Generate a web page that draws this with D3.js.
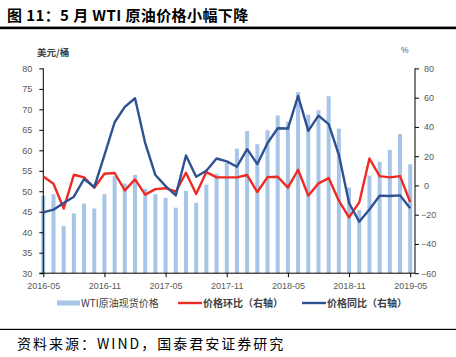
<!DOCTYPE html>
<html><head><meta charset="utf-8">
<script src="https://cdn.jsdelivr.net/npm/d3@7/dist/d3.min.js"></script>
<style>
body{margin:0;background:#fff;}
svg{display:block;font-family:"Liberation Sans",Arial,sans-serif;}
</style></head>
<body><svg id="c" width="456" height="357"></svg>
<script>
const months = ["2016-05","2016-06","2016-07","2016-08","2016-09","2016-10","2016-11","2016-12",
"2017-01","2017-02","2017-03","2017-04","2017-05","2017-06","2017-07","2017-08","2017-09","2017-10","2017-11","2017-12",
"2018-01","2018-02","2018-03","2018-04","2018-05","2018-06","2018-07","2018-08","2018-09","2018-10","2018-11","2018-12",
"2019-01","2019-02","2019-03","2019-04","2019-05"];
const wtiPrice = [48.9,49.3,41.5,44.6,47.0,45.8,49.3,53.7,51.9,54.0,50.6,49.3,48.4,46.0,50.1,47.2,51.6,54.3,57.0,60.4,
64.7,61.5,64.9,68.5,67.0,74.2,68.7,69.8,73.2,65.3,50.9,45.4,53.8,57.2,60.1,64.0,56.6];
const momChange = [6.1,1.2,-15.8,7.3,5.5,-1.6,8.0,8.5,-3.4,4.1,-6.3,-2.5,-1.9,-4.3,8.7,-5.9,9.1,5.5,5.5,5.5,
7.1,-4.5,5.7,5.9,-1.5,10.7,-7.0,1.4,5.0,-10.4,-21.8,-11.6,18.4,6.4,5.5,6.4,-11.3];
const yoyChange = [-18.4,-16.6,-12.0,-7.7,4.4,-1.1,20.7,43.2,53.7,59.6,28.9,7.1,-0.5,-6.8,20.5,5.9,10.0,18.4,16.4,12.8,
24.8,14.6,28.9,39.1,38.9,61.2,37.3,47.7,41.9,20.9,-12.0,-24.8,-16.4,-7.0,-7.2,-6.8,-15.6];
const leftTicks = [30,35,40,45,50,55,60,65,70,75,80];
const rightTicks = [-60,-40,-20,0,20,40,60,80];
const xTickLabels = ["2016-05","2016-11","2017-05","2017-11","2018-05","2018-11","2019-05"];
const seriesNames = ["WTI原油现货价格","价格环比（右轴）","价格同比（右轴）"];

const svg = d3.select("#c");
const X0 = 43.3, XEnd = 410.2, XR = 415, Y0 = 273.2, Y1 = 68.4;
const x = d3.scaleLinear().domain([0, months.length-1]).range([X0, XEnd]);
const yL = d3.scaleLinear().domain([30,80]).range([Y0, Y1]);
const yR = d3.scaleLinear().domain([-60,80]).range([Y0, Y1]);
const barColor = "#a7c5e7", redColor = "#ee2b23", blueColor = "#2e5191", labelColor = "#595959";

// title
svg.append("text").attr("x",7).attr("y",21).attr("font-family","'Noto Sans CJK SC',sans-serif")
  .attr("font-weight","bold").attr("font-size",15).attr("letter-spacing",0.4).attr("fill","#000").text("图 11：5 月 WTI 原油价格小幅下降");
svg.append("rect").attr("x",0).attr("y",26.6).attr("width",456).attr("height",2.6).attr("fill","#000");

// units
svg.append("text").attr("x",37).attr("y",56).attr("font-family","'Noto Sans CJK SC',sans-serif")
  .attr("font-weight","bold").attr("font-size",9.5).attr("fill","#404040").text("美元/桶");
svg.append("text").attr("x",401).attr("y",53).attr("font-size",8.5).attr("fill",labelColor).text("%");

// bars
svg.append("g").selectAll("rect").data(wtiPrice).join("rect")
  .attr("x",(d,i)=>x(i)-2).attr("width",4)
  .attr("y",d=>yL(d)).attr("height",d=>Y0-yL(d)).attr("fill",barColor);

// axes
const axisG = svg.append("g").attr("stroke","#000").attr("stroke-width",1).attr("fill","none");
axisG.append("line").attr("x1",X0).attr("x2",X0).attr("y1",Y1).attr("y2",Y0);
axisG.append("line").attr("x1",XR).attr("x2",XR).attr("y1",Y1).attr("y2",Y0);
axisG.append("line").attr("x1",X0-4).attr("x2",XR).attr("y1",Y0).attr("y2",Y0);

const lAx = svg.append("g").attr("transform",`translate(${X0},0)`)
  .call(d3.axisLeft(yL).tickValues(leftTicks).tickSize(4).tickPadding(7));
const rAx = svg.append("g").attr("transform",`translate(${XR},0)`)
  .call(d3.axisRight(yR).tickValues(rightTicks).tickSize(4).tickPadding(6));
const xIdx = xTickLabels.map(l=>months.indexOf(l));
const bAx = svg.append("g").attr("transform",`translate(0,${Y0})`)
  .call(d3.axisBottom(x).tickValues(xIdx).tickFormat(i=>months[i]).tickSize(4).tickPadding(5));
[lAx,rAx,bAx].forEach(g=>{
  g.select(".domain").remove();
  g.selectAll(".tick line").attr("stroke","#000");
  g.selectAll(".tick text").attr("fill",labelColor).attr("font-size",9).attr("font-family","'Liberation Sans',Arial,sans-serif");
});
rAx.selectAll(".tick text").attr("x",d=>d<0?6:9);

// lines
const lineR = d3.line().x((d,i)=>x(i)).y(d=>yR(d));
svg.append("path").datum(momChange).attr("d",lineR).attr("fill","none")
  .attr("stroke",redColor).attr("stroke-width",2.4).attr("stroke-linejoin","round");
svg.append("path").datum(yoyChange).attr("d",lineR).attr("fill","none")
  .attr("stroke",blueColor).attr("stroke-width",2.4).attr("stroke-linejoin","round");

// legend
const lg = svg.append("g").attr("font-family","'Noto Sans CJK SC',sans-serif").attr("font-size",10).attr("fill","#404040");
lg.append("rect").attr("x",57).attr("y",300.5).attr("width",23).attr("height",5).attr("fill",barColor);
lg.append("text").attr("x",81).attr("y",307).text(seriesNames[0]);
lg.append("line").attr("x1",178).attr("x2",202).attr("y1",303).attr("y2",303).attr("stroke",redColor).attr("stroke-width",2.4);
lg.append("text").attr("x",203).attr("y",307).attr("font-weight","bold").text(seriesNames[1]);
lg.append("line").attr("x1",302).attr("x2",326).attr("y1",303).attr("y2",303).attr("stroke",blueColor).attr("stroke-width",2.4);
lg.append("text").attr("x",327).attr("y",307).attr("font-weight","bold").text(seriesNames[2]);

// footer
svg.append("rect").attr("x",0).attr("y",328.8).attr("width",456).attr("height",1.2).attr("fill","#000");
svg.append("text").attr("x",17).attr("y",349).attr("font-family","'Noto Sans CJK SC',sans-serif")
  .attr("font-size",14).attr("letter-spacing",2.0).attr("fill","#000").text("资料来源：WIND，国泰君安证券研究");
</script></body></html>
